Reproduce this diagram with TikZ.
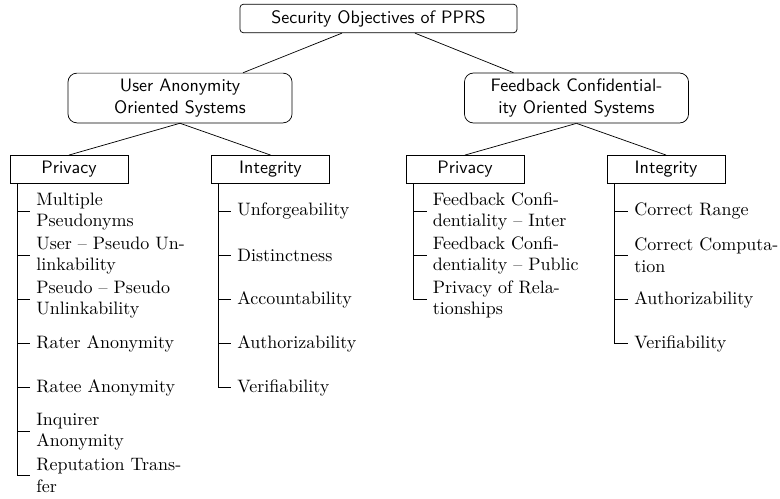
\documentclass[tikz,border=0pt]{standalone}
\usepackage{amsmath}
\usepackage{tikz}

\begin{document}
\begin{tikzpicture}[x=0.5556pt, y=-0.5556pt,
	objbox/.style={draw, rounded corners=2pt, font=\sffamily, minimum width=154pt},
	sysbox/.style={draw, rounded corners=5pt, font=\sffamily, align=center, minimum width=124.5pt},
	catbox/.style={draw, font=\sffamily, minimum width=65.5pt},
	leaf/.style={anchor=west, align=left},
	elbow/.style={to path={|- (\tikztotarget)}}]
	\useasboundingbox (0,0) rectangle (780,498);
	\node[objbox] (root) at (378.5,18.5) {Security Objectives of PPRS};
	\node[sysbox] (uas) at (180,98) {User Anonymity\\Oriented Systems};
	\node[sysbox] (fcs) at (576.5,98) {Feedback Confidential-\\ity Oriented Systems};
	\node[catbox] (p1) at (69,169.5) {Privacy};
	\node[catbox] (i1) at (270.5,169.5) {Integrity};
	\node[catbox] (p2) at (465,169.5) {Privacy};
	\node[catbox] (i2) at (666,169.5) {Integrity};
	\path (root) edge (uas) edge (fcs);
	\path (uas.south) edge (p1.north) edge (i1.north);
	\path (fcs.south) edge (p2.north) edge (i2.north);
	\begin{scope}
	\node[leaf] (p1-1) at (30,211.5) {Multiple\\Pseudonyms};
	\node[leaf] (p1-2) at (30,255.5) {User -- Pseudo Un-\\linkability};
	\node[leaf] (p1-3) at (30,299.5) {Pseudo -- Pseudo\\Unlinkability};
	\node[leaf] (p1-4) at (30,343.5) {Rater Anonymity};
	\node[leaf] (p1-5) at (30,387.5) {Ratee Anonymity};
	\node[leaf] (p1-6) at (30,431.5) {Inquirer\\Anonymity};
	\node[leaf] (p1-7) at (30,475.5) {Reputation Trans-\\fer};
	\coordinate (p1-s) at ([xshift=4pt]p1.south west);
	\path (p1-s) edge[elbow] (p1-1.west) edge[elbow] (p1-2.west) edge[elbow] (p1-3.west)
		edge[elbow] (p1-4.west) edge[elbow] (p1-5.west) edge[elbow] (p1-6.west) edge[elbow] (p1-7.west);
	\end{scope}
	\begin{scope}
	\node[leaf] (i1-1) at (231,211.5) {Unforgeability};
	\node[leaf] (i1-2) at (231,255.5) {Distinctness};
	\node[leaf] (i1-3) at (231,299.5) {Accountability};
	\node[leaf] (i1-4) at (231,343.5) {Authorizability};
	\node[leaf] (i1-5) at (231,387.5) {Verifiability};
	\coordinate (i1-s) at ([xshift=4pt]i1.south west);
	\path (i1-s) edge[elbow] (i1-1.west) edge[elbow] (i1-2.west) edge[elbow] (i1-3.west)
		edge[elbow] (i1-4.west) edge[elbow] (i1-5.west);
	\end{scope}
	\begin{scope}
	\node[leaf] (p2-1) at (426.5,211.5) {Feedback Confi-\\dentiality -- Inter};
	\node[leaf] (p2-2) at (426.5,255.5) {Feedback Confi-\\dentiality -- Public};
	\node[leaf] (p2-3) at (426.5,299.5) {Privacy of Rela-\\tionships};
	\coordinate (p2-s) at ([xshift=4.5pt]p2.south west);
	\path (p2-s) edge[elbow] (p2-1.west) edge[elbow] (p2-2.west) edge[elbow] (p2-3.west);
	\end{scope}
	\begin{scope}
	\node[leaf] (i2-1) at (628,211.5) {Correct Range};
	\node[leaf] (i2-2) at (628,255.5) {Correct Computa-\\tion};
	\node[leaf] (i2-3) at (628,299.5) {Authorizability};
	\node[leaf] (i2-4) at (628,343.5) {Verifiability};
	\coordinate (i2-s) at ([xshift=4.5pt]i2.south west);
	\path (i2-s) edge[elbow] (i2-1.west) edge[elbow] (i2-2.west) edge[elbow] (i2-3.west)
		edge[elbow] (i2-4.west);
	\end{scope}
\end{tikzpicture}
\end{document}
